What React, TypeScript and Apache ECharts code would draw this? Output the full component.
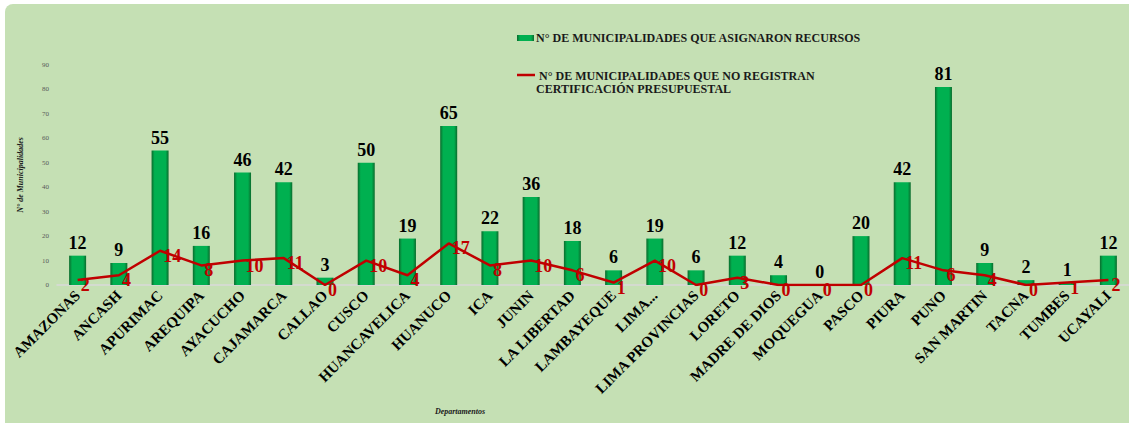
import React, { useEffect, useRef } from "react";
import * as echarts from "echarts";

const categories = [
  "AMAZONAS", "ANCASH", "APURIMAC", "AREQUIPA", "AYACUCHO", "CAJAMARCA", "CALLAO", "CUSCO",
  "HUANCAVELICA", "HUANUCO", "ICA", "JUNIN", "LA LIBERTAD", "LAMBAYEQUE", "LIMA...",
  "LIMA PROVINCIAS", "LORETO", "MADRE DE DIOS", "MOQUEGUA", "PASCO", "PIURA", "PUNO",
  "SAN MARTIN", "TACNA", "TUMBES", "UCAYALI",
];
const asignaron = [12, 9, 55, 16, 46, 42, 3, 50, 19, 65, 22, 36, 18, 6, 19, 6, 12, 4, 0, 20, 42, 81, 9, 2, 1, 12];
const noRegistran = [2, 4, 14, 8, 10, 11, 0, 10, 4, 17, 8, 10, 6, 1, 10, 0, 3, 0, 0, 0, 11, 6, 4, 0, 1, 2];

const seriesNames = [
  "N° DE MUNICIPALIDADES QUE ASIGNARON RECURSOS",
  " N° DE MUNICIPALIDADES QUE NO REGISTRAN\nCERTIFICACIÓN PRESUPUESTAL",
];
const yAxisName = "N° de Municipalidades";
const xAxisName = "Departamentos";

const SERIF = "Liberation Serif";

export default function App() {
  const ref = useRef<HTMLDivElement>(null);
  useEffect(() => {
    if (!ref.current) return;
    const chart = echarts.init(ref.current, null, { renderer: "svg" });
    const barGrad = new echarts.graphic.LinearGradient(0, 0, 1, 0, [
      { offset: 0, color: "#0b6b2c" },
      { offset: 0.18, color: "#00b050" },
      { offset: 0.82, color: "#00b050" },
      { offset: 1, color: "#0b6b2c" },
    ]);
    chart.setOption({
      animation: false,
      backgroundColor: "#ffffff",
      textStyle: { fontFamily: SERIF },
      graphic: [
        {
          type: "rect",
          z: -10,
          silent: true,
          shape: { x: 5, y: 4, width: 1140, height: 430, r: 8 },
          style: { fill: "#c5e0b4" },
        },
        {
          type: "rect",
          shape: { x: 517, y: 35, width: 17, height: 6 },
          style: { fill: barGrad },
        },
        {
          type: "text",
          x: 536,
          y: 38,
          style: {
            text: seriesNames[0],
            font: `bold 12px ${SERIF}`,
            fill: "#1a1a1a",
            verticalAlign: "middle",
          },
        },
        {
          type: "line",
          shape: { x1: 517, y1: 75, x2: 535, y2: 75 },
          style: { stroke: "#c00000", lineWidth: 2.5 },
        },
        {
          type: "text",
          x: 536,
          y: 69,
          style: {
            text: seriesNames[1],
            font: `bold 12px ${SERIF}`,
            fill: "#1a1a1a",
            lineHeight: 13,
            verticalAlign: "top",
          },
        },
        {
          type: "text",
          x: 460,
          y: 411,
          style: {
            text: xAxisName,
            font: `italic bold 8px ${SERIF}`,
            fill: "#1a1a1a",
            align: "center",
            verticalAlign: "middle",
          },
        },
      ],
      grid: { left: 57, right: -8, top: 65, bottom: 138, containLabel: false },
      xAxis: {
        type: "category",
        data: categories,
        axisLine: { lineStyle: { color: "#d9d9d9", width: 1.5 } },
        axisTick: { show: false },
        axisLabel: {
          rotate: 45,
          interval: 0,
          margin: 8,
          color: "#000",
          fontFamily: SERIF,
          fontWeight: "bold",
          fontSize: 15,
        },
      },
      yAxis: {
        type: "value",
        min: 0,
        max: 90,
        interval: 10,
        name: yAxisName,
        nameLocation: "middle",
        nameGap: 33,
        nameTextStyle: { fontFamily: SERIF, fontStyle: "italic", fontWeight: "bold", fontSize: 8, color: "#1a1a1a" },
        splitLine: { show: false },
        axisLine: { show: false },
        axisTick: { show: false },
        axisLabel: { color: "#595959", fontFamily: SERIF, fontSize: 7, margin: 8 },
      },
      series: [
        {
          name: seriesNames[0],
          type: "bar",
          data: asignaron,
          barWidth: 17,
          itemStyle: { color: barGrad },
          label: {
            show: true,
            position: "top",
            distance: 4,
            color: "#000",
            fontFamily: SERIF,
            fontWeight: "bold",
            fontSize: 18,
          },
        },
        {
          name: seriesNames[1],
          type: "line",
          data: noRegistran,
          symbol: "circle",
          symbolSize: 0.1,
          showSymbol: true,
          lineStyle: { color: "#c00000", width: 2.5 },
          itemStyle: { color: "#c00000" },
          label: {
            show: true,
            position: "right",
            distance: 3,
            offset: [0, 5],
            color: "#c00000",
            fontFamily: SERIF,
            fontWeight: "bold",
            fontSize: 18,
          },
        },
      ],
    });
    return () => chart.dispose();
  }, []);
  return (
    <div
      ref={ref}
      style={{ position: "fixed", left: 0, top: 0, width: 1129, height: 423 }}
    />
  );
}
